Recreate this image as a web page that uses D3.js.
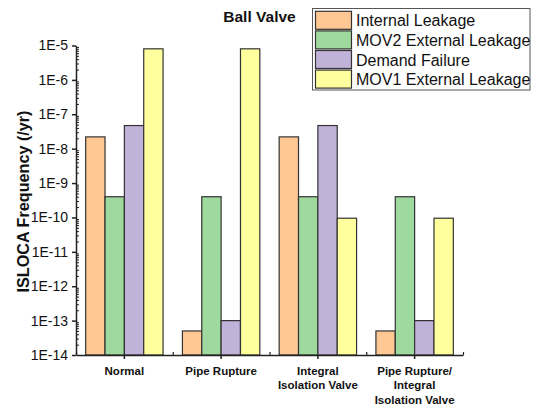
<!DOCTYPE html>
<html>
<head>
<meta charset="utf-8">
<script src="https://cdn.jsdelivr.net/npm/d3@7"></script>
<style>
  body { margin: 0; background: #fff; }
  svg { display: block; font-family: "Liberation Sans", Arial, sans-serif; }
</style>
</head>
<body>
<svg id="chart" width="534" height="410"></svg>
<script>
const categories = ["Normal", "Pipe Rupture", "Integral Isolation Valve", "Pipe Rupture/ Integral Isolation Valve"];
const categoryLines = [["Normal"], ["Pipe Rupture"], ["Integral", "Isolation Valve"], ["Pipe Rupture/", "Integral", "Isolation Valve"]];
const seriesNames = ["Internal Leakage", "MOV2 External Leakage", "Demand Failure", "MOV1 External Leakage"];
const seriesColors = ["#FFC794", "#9ED99E", "#C1B2D9", "#FFFF9E"];
const internalLeakage = [2.2e-8, 5e-14, 2.2e-8, 5e-14];
const mov2ExternalLeakage = [4e-10, 4e-10, 4e-10, 4e-10];
const demandFailure = [4.7e-8, 1e-13, 4.7e-8, 1e-13];
const mov1ExternalLeakage = [8e-6, 8e-6, 9.5e-11, 9.5e-11];
const yTickValues = [1e-5, 1e-6, 1e-7, 1e-8, 1e-9, 1e-10, 1e-11, 1e-12, 1e-13, 1e-14];
const yTickLabels = ["1E-5", "1E-6", "1E-7", "1E-8", "1E-9", "1E-10", "1E-11", "1E-12", "1E-13", "1E-14"];
const chartTitle = "Ball Valve";
const yTitle = "ISLOCA Frequency (/yr)";

(function () {
const seriesValues = [internalLeakage, mov2ExternalLeakage, demandFailure, mov1ExternalLeakage];

const svg = d3.select("#chart");
const pLeft = 76, pRight = 463, pTop = 45.5, pBottom = 355;

const x = d3.scaleBand().domain(categories).range([pLeft, pRight]).padding(0);
const xs = d3.scaleBand().domain(seriesNames).range([0, x.bandwidth()]).paddingOuter(0.5).paddingInner(0);
const y = d3.scaleLog().domain([1e-14, 1e-5]).range([pBottom, pTop]);

// bars
const rows = [];
categories.forEach((c, ci) => {
  seriesNames.forEach((s, si) => rows.push({ c, s, si, v: seriesValues[si][ci] }));
});
svg.append("g").selectAll("rect").data(rows).join("rect")
  .attr("x", d => x(d.c) + xs(d.s))
  .attr("y", d => y(d.v))
  .attr("width", xs.bandwidth())
  .attr("height", d => pBottom - y(d.v))
  .attr("fill", d => seriesColors[d.si])
  .attr("stroke", "#333")
  .attr("stroke-width", 1.2);

// y minor ticks (inward)
const minor = [];
for (let e = -14; e < -5; e++) for (let m = 2; m <= 9; m++) minor.push(m * Math.pow(10, e));
const yMinor = svg.append("g").attr("transform", `translate(${pLeft},0)`)
  .call(d3.axisRight(y).tickValues(minor).tickSize(3).tickFormat(""));
yMinor.select(".domain").remove();
yMinor.selectAll("line").attr("stroke", "#222").attr("stroke-width", 1);

// y major axis
const yAxis = svg.append("g").attr("transform", `translate(${pLeft},0)`)
  .call(d3.axisLeft(y).tickValues(yTickValues).tickSize(4).tickSizeOuter(0)
    .tickFormat((d, i) => yTickLabels[i]));
yAxis.select(".domain").attr("stroke", "#222").attr("stroke-width", 1.5);
yAxis.selectAll("line").attr("stroke", "#222").attr("stroke-width", 1.5);
yAxis.selectAll("text").attr("font-size", 14).attr("fill", "#111")
  .attr("font-family", "'Liberation Sans', Arial, sans-serif").attr("dx", "-1");

// x axis
const xAxis = svg.append("g").attr("transform", `translate(0,${pBottom})`)
  .call(d3.axisBottom(x).tickSize(4).tickSizeOuter(0).tickFormat(""));
xAxis.select(".domain").attr("stroke", "#222").attr("stroke-width", 1.5);
xAxis.selectAll("line").attr("stroke", "#222").attr("stroke-width", 1.5);

// x minor ticks at category boundaries (inward)
const bounds = categories.map(c => x(c)).concat([pRight]);
const xLin = d3.scaleLinear().domain([pLeft, pRight]).range([pLeft, pRight]);
const xMinor = svg.append("g").attr("transform", `translate(0,${pBottom})`)
  .call(d3.axisTop(xLin).tickValues(bounds).tickSize(3).tickFormat(""));
xMinor.select(".domain").remove();
xMinor.selectAll("line").attr("stroke", "#222").attr("stroke-width", 1.2);

// x labels
categories.forEach((c, ci) => {
  const t = svg.append("text")
    .attr("x", x(c) + x.bandwidth() / 2)
    .attr("y", 375)
    .attr("text-anchor", "middle")
    .attr("font-size", 11.5)
    .attr("font-weight", "bold")
    .attr("fill", "#111");
  categoryLines[ci].forEach((line, li) => {
    t.append("tspan").attr("x", x(c) + x.bandwidth() / 2).attr("y", 375 + li * 14.3).text(line);
  });
});

// title
svg.append("text").attr("x", 259.5).attr("y", 22).attr("text-anchor", "middle")
  .attr("font-size", 15.5).attr("font-weight", "bold").attr("fill", "#111").text(chartTitle);

// y title
svg.append("text").attr("transform", "translate(29,201.5) rotate(-90)")
  .attr("text-anchor", "middle").attr("font-size", 16.2).attr("font-weight", "bold")
  .attr("fill", "#111").text(yTitle);

// legend
const lg = svg.append("g");
lg.append("rect").attr("x", 312.5).attr("y", 8.5).attr("width", 217.5).attr("height", 81.5)
  .attr("fill", "#fff").attr("stroke", "#555").attr("stroke-width", 1);
seriesNames.forEach((s, i) => {
  const yy = 11.3 + i * 19.6;
  lg.append("rect").attr("x", 315.5).attr("y", yy).attr("width", 36).attr("height", 18)
    .attr("fill", seriesColors[i]).attr("stroke", "#333").attr("stroke-width", 1.2);
  lg.append("text").attr("x", 356).attr("y", yy + 15).attr("font-size", 16)
    .attr("fill", "#111").text(s);
});
})();
</script>
</body>
</html>
